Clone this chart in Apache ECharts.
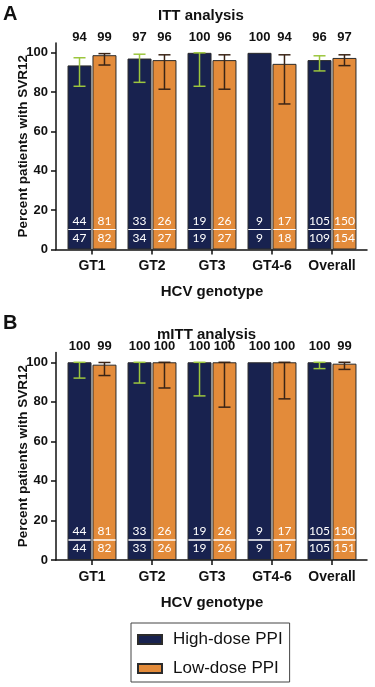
<!DOCTYPE html>
<html>
<head>
<meta charset="utf-8">
<script src="https://cdn.jsdelivr.net/npm/echarts@6/dist/echarts.min.js"></script>
<style>
  html, body { margin: 0; padding: 0; background: #fff; }
  #chart { width: 375px; height: 687px; }
</style>
</head>
<body>
<div id="chart"></div>
<script>
const CATEGORIES = ['GT1', 'GT2', 'GT3', 'GT4-6', 'Overall']
const Y_TICKS = [0, 20, 40, 60, 80, 100]

// ITT analysis
const ITT_HIGH = [93.6, 97.1, 100, 100, 96.3]
const ITT_LOW = [98.8, 96.3, 96.3, 94.4, 97.4]
const ITT_HIGH_PCT = [94, 97, 100, 100, 96]
const ITT_LOW_PCT = [99, 96, 96, 94, 97]
const ITT_HIGH_CI_LO = [83, 85, 83, null, 90.8]
const ITT_HIGH_CI_HI = [97.5, 99.3, 100, null, 98.5]
const ITT_LOW_CI_LO = [93.8, 81.5, 81.5, 74, 93.5]
const ITT_LOW_CI_HI = [99.6, 99, 99, 99, 99]
const ITT_HIGH_N = [44, 33, 19, 9, 105]
const ITT_HIGH_TOTAL = [47, 34, 19, 9, 109]
const ITT_LOW_N = [81, 26, 26, 17, 150]
const ITT_LOW_TOTAL = [82, 27, 27, 18, 154]

// mITT analysis
const MITT_HIGH = [100, 100, 100, 100, 100]
const MITT_LOW = [98.8, 100, 100, 100, 99.3]
const MITT_HIGH_PCT = [100, 100, 100, 100, 100]
const MITT_LOW_PCT = [99, 100, 100, 100, 99]
const MITT_HIGH_CI_LO = [92, 89.5, 83, null, 96.8]
const MITT_HIGH_CI_HI = [100, 100, 100, null, 100]
const MITT_LOW_CI_LO = [93.3, 87, 77.3, 81.5, 96.4]
const MITT_LOW_CI_HI = [99.9, 100, 100, 100, 100]
const MITT_HIGH_N = [44, 33, 19, 9, 105]
const MITT_HIGH_TOTAL = [44, 33, 19, 9, 105]
const MITT_LOW_N = [81, 26, 26, 17, 150]
const MITT_LOW_TOTAL = [82, 26, 26, 17, 151]

const NAVY = '#18224f'
const ORANGE = '#e38b3a'
const GREEN = '#9cc63e'
const DARK = '#3a2416'
const FONT = 'Liberation Sans'

const chart = echarts.init(document.getElementById('chart'))

function fractionLabel(nums, totals) {
  return {
    show: true,
    position: 'insideBottom',
    distance: 3,
    formatter: ({ dataIndex }) => `{n|${nums[dataIndex]}}\n{hr|}\n{d|${totals[dataIndex]}}`,
    rich: {
      n: { color: '#fff', fontSize: 12, fontFamily: 'Lato', lineHeight: 17, align: 'center' },
      hr: { width: 22, height: 0, borderColor: '#fff', borderWidth: 1 },
      d: { color: '#fff', fontSize: 12, fontFamily: 'Lato', lineHeight: 17, align: 'center' },
    },
  }
}

function barSeries(name, color, values, gridIdx, nums, totals) {
  return {
    name,
    type: 'bar',
    xAxisIndex: gridIdx,
    yAxisIndex: gridIdx,
    data: values,
    barWidth: '40%',
    barGap: '4%',
    itemStyle: { color, borderColor: '#2b2b2b', borderWidth: 1 },
    label: fractionLabel(nums, totals),
    animation: false,
  }
}

// error bar + percentage label above the plot
function errorSeries(side, color, values, pct, lo, hi, gridIdx) {
  return {
    type: 'custom',
    xAxisIndex: gridIdx,
    yAxisIndex: gridIdx,
    z: 5,
    silent: true,
    animation: false,
    data: values.map((v, i) => [i, v, lo[i] == null ? '-' : lo[i], hi[i] == null ? '-' : hi[i], pct[i]]),
    renderItem: (params, api) => {
      const cat = api.value(0)
      const band = api.size([1, 0])[0]
      const barW = band * 0.4
      const dx = side * (barW * 1.04) / 2
      const top = api.coord([cat, 107.8])
      const x = top[0] + dx
      const children = [{
        type: 'text',
        style: {
          text: String(api.value(4)),
          x,
          y: top[1],
          align: 'center',
          verticalAlign: 'middle',
          fill: '#111',
          fontSize: 13,
          fontWeight: 'bold',
          fontFamily: FONT,
        },
      }]
      const l = api.value(2)
      const h = api.value(3)
      if (!isNaN(l) && !isNaN(h)) {
        const yl = api.coord([cat, l])[1]
        const yh = api.coord([cat, h])[1]
        const st = { stroke: color, lineWidth: 1.5 }
        children.push(
          { type: 'line', shape: { x1: x, y1: yl, x2: x, y2: yh }, style: st },
          { type: 'line', shape: { x1: x - 6, y1: yl, x2: x + 6, y2: yl }, style: st },
          { type: 'line', shape: { x1: x - 6, y1: yh, x2: x + 6, y2: yh }, style: st }
        )
      }
      return { type: 'group', children }
    },
  }
}

function catAxis(gridIndex) {
  return {
    type: 'category',
    gridIndex,
    data: CATEGORIES,
    name: 'HCV genotype',
    nameLocation: 'middle',
    nameGap: 35,
    nameTextStyle: { color: '#111', fontSize: 15, fontWeight: 'bold', fontFamily: FONT },
    axisLine: { show: false },
    axisTick: { show: true, alignWithLabel: true, length: 5, lineStyle: { color: '#111', width: 1.5 } },
    axisLabel: { interval: 0, color: '#111', fontSize: 14, fontWeight: 'bold', fontFamily: FONT, margin: 10 },
  }
}

function valAxis(gridIndex) {
  return {
    type: 'value',
    gridIndex,
    min: 0,
    max: 105,
    offset: 6,
    axisLine: { show: true, lineStyle: { color: '#111', width: 1.5 } },
    axisTick: { show: true, length: 5, customValues: Y_TICKS, lineStyle: { color: '#111', width: 1.5 } },
    axisLabel: { color: '#111', fontSize: 13, fontWeight: 'bold', fontFamily: FONT, margin: 8, customValues: Y_TICKS },
    splitLine: { show: false },
  }
}

// plain axis line that reaches past the category bands
function lineXAxis(gridIndex) {
  return {
    type: 'value',
    gridIndex,
    min: 0,
    max: 1,
    axisLine: { show: true, lineStyle: { color: '#111', width: 1.5 } },
    axisTick: { show: false },
    axisLabel: { show: false },
    splitLine: { show: false },
  }
}

// carries only the y axis title
function nameYAxis(gridIndex) {
  return {
    type: 'value',
    gridIndex,
    min: 0,
    max: 1,
    name: 'Percent patients with SVR12',
    nameLocation: 'middle',
    nameGap: 26,
    nameTextStyle: { color: '#111', fontSize: 13.5, fontWeight: 'bold', fontFamily: FONT },
    axisLine: { show: false },
    axisTick: { show: false },
    axisLabel: { show: false },
    splitLine: { show: false },
  }
}

const option = {
  animation: false,
  backgroundColor: '#fff',
  title: [
    { text: 'A', left: 3, top: 4, padding: 0, textStyle: { fontSize: 20, fontWeight: 'bold', color: '#111', fontFamily: FONT } },
    { text: 'ITT analysis', left: 158, top: 8, padding: 0, textStyle: { fontSize: 15, fontWeight: 'bold', color: '#111', fontFamily: FONT } },
    { text: 'B', left: 3, top: 313, padding: 0, textStyle: { fontSize: 20, fontWeight: 'bold', color: '#111', fontFamily: FONT } },
    { text: 'mITT analysis', left: 157, top: 327, padding: 0, textStyle: { fontSize: 15, fontWeight: 'bold', color: '#111', fontFamily: FONT } },
  ],
  legend: {
    orient: 'vertical',
    left: 131,
    top: 623,
    padding: [8, 7, 5, 6],
    itemGap: 12,
    itemWidth: 24,
    itemHeight: 9,
    icon: 'rect',
    borderColor: '#444',
    borderWidth: 1,
    data: ['High-dose PPI', 'Low-dose PPI'],
    textStyle: { fontSize: 17, color: '#111', fontFamily: FONT, lineHeight: 17, padding: [0, 0, 0, 6] },
  },
  grid: [
    { left: 62, right: 13, top: 43, bottom: 437.5 },
    { left: 56, right: 8, top: 43, bottom: 437.5 },
    { left: 62, right: 13, top: 352.4, bottom: 127 },
    { left: 56, right: 8, top: 352.4, bottom: 127 },
  ],
  xAxis: [catAxis(0), lineXAxis(1), catAxis(2), lineXAxis(3)],
  yAxis: [valAxis(0), nameYAxis(1), valAxis(2), nameYAxis(3)],
  series: [
    barSeries('High-dose PPI', NAVY, ITT_HIGH, 0, ITT_HIGH_N, ITT_HIGH_TOTAL),
    barSeries('Low-dose PPI', ORANGE, ITT_LOW, 0, ITT_LOW_N, ITT_LOW_TOTAL),
    barSeries('High-dose PPI', NAVY, MITT_HIGH, 2, MITT_HIGH_N, MITT_HIGH_TOTAL),
    barSeries('Low-dose PPI', ORANGE, MITT_LOW, 2, MITT_LOW_N, MITT_LOW_TOTAL),
    errorSeries(-1, GREEN, ITT_HIGH, ITT_HIGH_PCT, ITT_HIGH_CI_LO, ITT_HIGH_CI_HI, 0),
    errorSeries(1, DARK, ITT_LOW, ITT_LOW_PCT, ITT_LOW_CI_LO, ITT_LOW_CI_HI, 0),
    errorSeries(-1, GREEN, MITT_HIGH, MITT_HIGH_PCT, MITT_HIGH_CI_LO, MITT_HIGH_CI_HI, 2),
    errorSeries(1, DARK, MITT_LOW, MITT_LOW_PCT, MITT_LOW_CI_LO, MITT_LOW_CI_HI, 2),
  ],
}

chart.setOption(option)
</script>
</body>
</html>
